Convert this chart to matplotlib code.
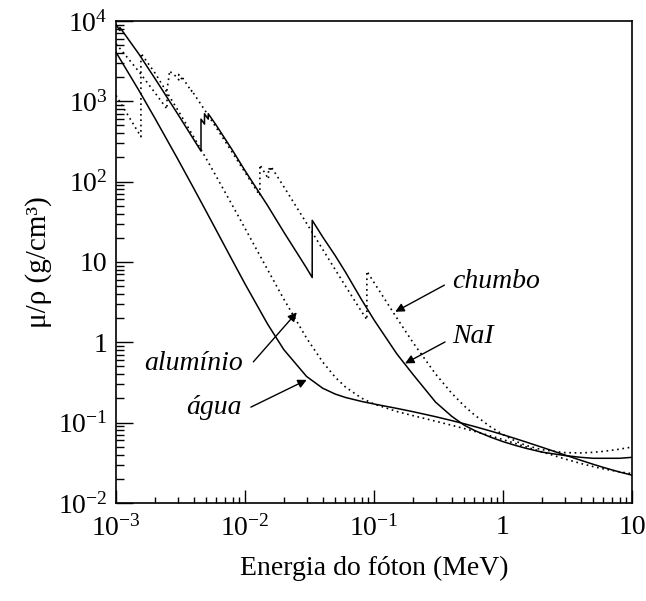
import numpy as np
import matplotlib
matplotlib.use("Agg")
import matplotlib.pyplot as plt
from matplotlib.ticker import FixedLocator, FixedFormatter, LogLocator, NullFormatter

plt.rcParams['font.family'] = 'serif'
plt.rcParams['font.serif'] = ['Liberation Serif', 'DejaVu Serif']
plt.rcParams['mathtext.fontset'] = 'custom'
plt.rcParams['mathtext.rm'] = 'Liberation Serif'
plt.rcParams['mathtext.it'] = 'Liberation Serif:italic'

# energies in MeV, mu/rho in cm2/g (edges repeated)
water_E = [1e-3, 1.5e-3, 2e-3, 3e-3, 4e-3, 5e-3, 6e-3, 8e-3, 1e-2, 1.5e-2, 2e-2, 3e-2,
           4e-2, 5e-2, 6e-2, 8e-2, 0.1, 0.15, 0.2, 0.3, 0.4, 0.5, 0.6, 0.8, 1, 1.25,
           1.5, 2, 3, 4, 5, 6, 8, 10]
water_mu = [4078, 1376, 617.3, 192.9, 82.78, 42.58, 24.64, 10.37, 5.329, 1.673, 0.8096,
            0.3756, 0.2683, 0.2269, 0.2059, 0.1837, 0.1707, 0.1505, 0.137, 0.1186,
            0.1061, 0.09687, 0.08956, 0.07865, 0.07072, 0.06323, 0.05754, 0.04942,
            0.03969, 0.03403, 0.03031, 0.0277, 0.02429, 0.02219]

al_E = [1e-3, 1.5e-3, 1.5596e-3, 1.5596e-3, 2e-3, 3e-3, 4e-3, 5e-3, 6e-3, 8e-3, 1e-2,
        1.5e-2, 2e-2, 3e-2, 4e-2, 5e-2, 6e-2, 8e-2, 0.1, 0.15, 0.2, 0.3, 0.4, 0.5, 0.6,
        0.8, 1, 1.25, 1.5, 2, 3, 4, 5, 6, 8, 10]
al_mu = [1185, 402.2, 362.1, 3957, 2263, 788.0, 360.5, 193.4, 115.3, 50.33, 26.23,
         7.955, 3.441, 1.128, 0.5685, 0.3681, 0.2778, 0.2018, 0.1704, 0.1378, 0.1223,
         0.1042, 0.09276, 0.08445, 0.07802, 0.06841, 0.06146, 0.05496, 0.05006,
         0.04324, 0.03541, 0.03106, 0.02836, 0.02655, 0.02437, 0.02318]

nai_E = [1e-3, 1.0721e-3, 1.0721e-3, 1.5e-3, 2e-3, 3e-3, 4e-3, 4.5571e-3, 4.5571e-3,
         4.8521e-3, 4.8521e-3, 5e-3, 5.188e-3, 5.188e-3, 6e-3, 8e-3, 1e-2, 1.5e-2,
         2e-2, 3e-2, 3.31694e-2, 3.31694e-2, 4e-2, 5e-2, 6e-2, 8e-2, 0.1, 0.15, 0.2,
         0.3, 0.4, 0.5, 0.6, 0.8, 1, 1.25, 1.5, 2, 3, 4, 5, 6, 8, 10]
nai_mu = [9000, 7600, 8300, 3900, 1930, 700, 335, 240, 600, 520, 700, 650, 600, 700,
          500, 245, 137, 50, 23.5, 8.4, 6.4, 33, 20.5, 12, 7.5, 3.4, 1.9, 0.72, 0.40,
          0.18, 0.12, 0.093, 0.080, 0.066, 0.058, 0.052, 0.048, 0.043, 0.039, 0.037,
          0.036, 0.036, 0.036, 0.037]

pb_E = [1e-3, 1.5e-3, 2e-3, 2.484e-3, 2.484e-3, 2.5343e-3, 2.5856e-3, 2.5856e-3, 3e-3,
        3.0664e-3, 3.0664e-3, 3.3013e-3, 3.3013e-3, 3.5542e-3, 3.8507e-3, 3.8507e-3,
        4e-3, 5e-3, 6e-3, 8e-3, 1e-2, 1.30352e-2, 1.30352e-2, 1.5e-2, 1.52e-2, 1.52e-2,
        1.55269e-2, 1.58608e-2, 1.58608e-2, 2e-2, 3e-2, 4e-2, 5e-2, 6e-2, 8e-2,
        8.80045e-2, 8.80045e-2, 0.1, 0.15, 0.2, 0.3, 0.4, 0.5, 0.6, 0.8, 1, 1.25, 1.5,
        2, 3, 4, 5, 6, 8, 10]
pb_mu = [5210, 2356, 1285, 800.6, 1397, 1726, 2135, 2394, 1965, 1847, 2158, 1802, 1929,
         1613, 1330, 1390, 1251, 730.4, 467.2, 228.7, 130.6, 67.01, 162.1, 111.6, 107.8,
         148.5, 141.6, 134.4, 154.8, 86.36, 30.32, 14.36, 8.041, 5.021, 2.419, 1.910,
         7.683, 5.549, 2.014, 0.9985, 0.4031, 0.2323, 0.1614, 0.1248, 0.0887, 0.07102,
         0.05876, 0.05222, 0.04606, 0.04234, 0.04197, 0.04272, 0.04391, 0.04675, 0.04972]

x_ticks = [1e-3, 1e-2, 1e-1, 1, 10]
x_labels = ['$10^{-3}$', '$10^{-2}$', '$10^{-1}$', '1', '10']
y_ticks = [1e-2, 1e-1, 1, 10, 1e2, 1e3, 1e4]
y_labels = ['$10^{-2}$', '$10^{-1}$', '1', '10', '$10^{2}$', '$10^{3}$', '$10^{4}$']

fig = plt.figure(figsize=(6.46, 6.01), dpi=100)
ax = fig.add_axes([0.1796, 0.1631, 0.7988, 0.802])

ax.plot(water_E, water_mu, color='black', lw=1.1)
ax.plot(nai_E, nai_mu, color='black', lw=1.1)
ax.plot(al_E, al_mu, color='black', lw=1.2, ls=(0, (1, 2.2)))
ax.plot(pb_E, pb_mu, color='black', lw=1.2, ls=(0, (1, 2.2)))

ax.set_xscale('log')
ax.set_yscale('log')
ax.set_xlim(1e-3, 10)
ax.set_ylim(1e-2, 1e4)

ax.xaxis.set_major_locator(FixedLocator(x_ticks))
ax.xaxis.set_major_formatter(FixedFormatter(x_labels))
ax.yaxis.set_major_locator(FixedLocator(y_ticks))
ax.yaxis.set_major_formatter(FixedFormatter(y_labels))
ax.xaxis.set_minor_locator(LogLocator(base=10, subs=np.arange(2, 10), numticks=20))
ax.yaxis.set_minor_locator(LogLocator(base=10, subs=np.arange(2, 10), numticks=20))
ax.xaxis.set_minor_formatter(NullFormatter())
ax.yaxis.set_minor_formatter(NullFormatter())

ax.tick_params(which='both', direction='in', top=False, right=False, labelsize=20,
               width=1, color='black')
ax.tick_params(axis='x', which='major', length=9.5, pad=9)
ax.tick_params(axis='x', which='minor', length=4)
ax.tick_params(axis='y', which='major', length=12, pad=6)
ax.tick_params(axis='y', which='minor', length=6)
for s in ax.spines.values():
    s.set_linewidth(1.2)

ax.set_xlabel('Energia do fóton (MeV)', fontsize=20, labelpad=10)
ax.set_ylabel('μ/ρ (g/cm³)', fontsize=21, labelpad=4)

arrow = dict(arrowstyle='-|>', color='black', lw=1.0, mutation_scale=13,
             shrinkA=0, shrinkB=0)
ax.annotate('', xy=(0.146, 2.40), xytext=(0.351, 5.15), arrowprops=arrow)
ax.annotate('', xy=(0.174, 0.546), xytext=(0.355, 1.01), arrowprops=arrow)
ax.annotate('', xy=(0.0252, 2.36), xytext=(0.0116, 0.571), arrowprops=arrow)
ax.annotate('', xy=(0.0301, 0.341), xytext=(0.0111, 0.156), arrowprops=arrow)

ax.text(0.40, 4.73, 'chumbo', fontsize=20, style='italic', ha='left', va='baseline')
ax.text(0.40, 0.977, 'NaI', fontsize=20, style='italic', ha='left', va='baseline')
ax.text(0.0097, 0.451, 'alumínio', fontsize=20, style='italic', ha='right', va='baseline')
ax.text(0.0095, 0.128, 'água', fontsize=20, style='italic', ha='right', va='baseline')

fig.savefig('out.png', dpi=100)
